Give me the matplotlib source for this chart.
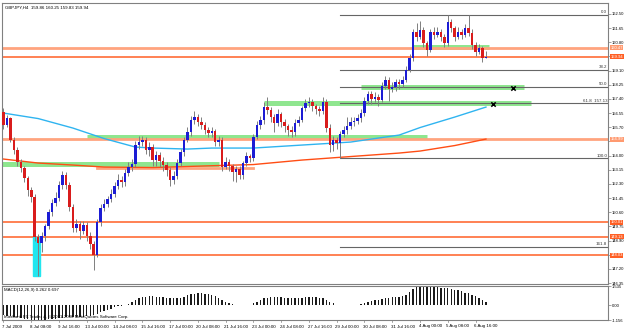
import matplotlib
matplotlib.use("Agg")
import matplotlib.pyplot as plt
import matplotlib.transforms as mtransforms
from matplotlib.patches import Rectangle

plt.rcParams['font.family'] = ['Liberation Sans', 'DejaVu Sans']

# GBPJPY H4, 7 Jul - 7 Aug 2009
first_open = 156.61
closes = [155.83, 156.25, 154.93, 154.33, 153.61, 153.25, 152.65, 151.93, 151.51, 149.11,
          148.75, 149.17, 149.77, 150.61, 151.15, 151.45, 152.23, 152.83, 152.23, 150.91,
          149.65, 149.89, 149.47, 149.83, 149.17, 148.69, 148.03, 150.01, 150.85, 151.09,
          151.39, 151.69, 152.17, 152.53, 152.41, 152.95, 153.31, 153.49, 154.63, 154.81,
          154.93, 154.33, 154.51, 153.73, 154.03, 153.67, 153.43, 153.13, 152.53, 152.77,
          153.55, 154.21, 154.93, 155.41, 156.13, 156.31, 156.01, 155.83, 155.53, 155.35,
          155.47, 154.81, 154.93, 153.31, 153.61, 153.37, 153.01, 153.19, 152.83, 153.55,
          153.97, 153.85, 155.11, 155.83, 156.13, 156.91, 156.73, 156.31, 155.95, 156.49,
          156.01, 155.77, 155.53, 155.41, 155.95, 156.13, 156.85, 157.15, 157.21, 156.97,
          156.79, 156.67, 157.21, 155.65, 154.63, 154.93, 154.75, 155.29, 155.53, 155.77,
          156.01, 156.07, 156.25, 156.55, 157.27, 157.69, 157.39, 157.51, 157.33, 158.17,
          158.53, 157.99, 158.11, 158.41, 158.29, 158.53, 159.13, 159.85, 161.42, 161.12,
          161.54, 160.76, 160.34, 161.42, 161.24, 161.42, 161.12, 160.76, 162.02, 161.66,
          161.12, 161.42, 161.24, 161.66, 161.36, 160.64, 160.22, 160.46, 159.86, 159.94]
highs = [156.85, 156.45, 156.30, 155.10, 154.50, 153.80, 153.40, 152.80, 152.10, 151.70,
         149.30, 149.40, 149.90, 150.80, 151.40, 151.80, 152.50, 153.10, 153.00, 152.40,
         151.10, 150.20, 150.10, 150.10, 150.00, 149.40, 148.90, 150.20, 151.10, 151.40,
         151.60, 152.00, 152.40, 152.90, 152.80, 153.20, 153.60, 153.80, 154.90, 155.20,
         155.20, 155.10, 154.80, 154.70, 154.30, 154.20, 153.90, 153.60, 153.30, 153.10,
         153.80, 154.40, 155.10, 155.70, 156.40, 156.70, 156.50, 156.30, 156.00, 155.70,
         155.70, 155.60, 155.20, 155.10, 153.90, 153.80, 153.50, 153.40, 153.40, 153.70,
         154.20, 154.10, 155.30, 156.10, 156.40, 157.20, 157.50, 156.90, 156.50, 156.80,
         156.60, 156.20, 155.90, 155.80, 156.20, 156.40, 157.00, 157.40, 157.50, 157.40,
         157.10, 157.00, 157.50, 157.40, 155.90, 155.20, 155.10, 155.50, 155.80, 156.30,
         156.30, 156.30, 156.50, 156.80, 157.50, 157.90, 157.90, 157.80, 157.70, 158.40,
         158.80, 158.70, 158.40, 158.60, 158.60, 158.80, 159.40, 160.10, 161.60, 161.95,
         162.10, 161.70, 160.90, 161.60, 161.70, 161.70, 161.60, 161.30, 162.44, 162.20,
         161.80, 161.70, 161.60, 161.90, 162.44, 161.60, 160.80, 160.70, 160.60, 160.25]
lows = [155.60, 155.70, 154.80, 154.10, 153.40, 153.00, 152.40, 151.60, 151.20, 148.90,
        146.75, 148.20, 148.90, 149.60, 150.40, 151.00, 151.30, 152.00, 152.00, 150.70,
        149.40, 149.40, 149.00, 149.30, 148.90, 148.40, 147.15, 147.90, 149.80, 150.70,
        150.90, 151.20, 151.50, 152.00, 152.10, 152.20, 152.80, 153.10, 153.30, 154.40,
        154.60, 154.10, 154.00, 153.40, 153.40, 153.30, 153.10, 152.80, 152.20, 152.30,
        152.60, 153.40, 154.00, 154.80, 155.20, 155.90, 155.80, 155.60, 155.30, 155.10,
        155.10, 154.60, 154.60, 153.10, 153.20, 153.10, 152.50, 152.40, 152.60, 152.60,
        153.40, 153.60, 153.70, 155.00, 155.60, 155.90, 156.50, 156.00, 155.40, 155.80,
        155.70, 155.40, 155.20, 155.10, 155.20, 155.80, 156.00, 156.70, 156.90, 156.70,
        156.50, 156.40, 156.50, 155.40, 154.20, 154.30, 154.40, 153.84, 155.10, 155.30,
        155.60, 155.80, 155.90, 156.00, 156.40, 157.10, 157.10, 157.20, 157.00, 157.20,
        158.00, 157.30, 157.80, 157.90, 158.00, 158.10, 158.40, 159.00, 159.70, 160.90,
        161.00, 160.50, 160.00, 160.20, 161.00, 161.10, 160.90, 160.50, 160.60, 161.40,
        160.90, 161.00, 161.00, 161.10, 161.20, 160.40, 160.00, 160.10, 159.60, 159.83]
opens = [first_open] + closes[:-1]

macd = [-0.75, -0.80, -0.85, -0.90, -0.95, -1.00, -1.05, -1.10, -1.12, -1.15,
        -1.15, -1.15, -1.13, -1.10, -1.08, -1.05, -1.00, -0.98, -0.95, -0.95,
        -0.95, -0.93, -0.90, -0.88, -0.85, -0.80, -0.75, -0.65, -0.55, -0.45,
        -0.35, -0.25, -0.15, -0.07, -0.02, 0.03, 0.12, 0.25, 0.40, 0.55,
        0.65, 0.70, 0.72, 0.72, 0.70, 0.68, 0.65, 0.60, 0.55, 0.55,
        0.58, 0.62, 0.70, 0.80, 0.88, 0.92, 0.95, 0.95, 0.92, 0.88,
        0.85, 0.75, 0.60, 0.45, 0.30, 0.18, 0.08, 0.03, 0.02, 0.02,
        0.03, 0.05, 0.15, 0.30, 0.45, 0.55, 0.62, 0.65, 0.65, 0.65,
        0.63, 0.60, 0.58, 0.57, 0.58, 0.60, 0.62, 0.65, 0.66, 0.66,
        0.65, 0.62, 0.60, 0.45, 0.30, 0.15, 0.06, 0.02, 0.02, 0.02,
        0.02, 0.03, 0.05, 0.10, 0.20, 0.30, 0.38, 0.42, 0.45, 0.50,
        0.55, 0.62, 0.65, 0.68, 0.70, 0.75, 0.85, 1.05, 1.30, 1.45,
        1.50, 1.52, 1.52, 1.50, 1.48, 1.45, 1.40, 1.38, 1.35, 1.30,
        1.25, 1.20, 1.12, 1.02, 0.95, 0.85, 0.72, 0.60, 0.45, 0.26]

# moving averages (bar index, price)
blue_ma_idx = [0, 10, 20, 29, 38, 43, 53, 60, 72, 86, 100, 114, 120, 130, 139]
blue_ma = [156.55, 156.22, 155.65, 155.02, 154.51, 154.45, 154.39, 154.45, 154.45,
           154.63, 154.81, 155.23, 155.68, 156.31, 156.91]
red_ma_idx = [0, 10, 20, 29, 43, 57, 72, 86, 100, 114, 120, 130, 139]
red_ma = [153.79, 153.55, 153.43, 153.31, 153.28, 153.37, 153.46, 153.73, 153.94,
          154.15, 154.27, 154.60, 154.99]

# drawn objects
orange_levels = [159.94, 150.01, 149.13, 148.03]
orange_labels = ['159.94', '150.01', '149.13', '148.03']
salmon_levels = [160.47, 154.99]
salmon_labels = ['160.47', '154.99']
salmon_seg = (153.25, 27, 72)
zone_prices = [153.49, 155.11, 157.15, 158.11, 160.52]
zone_start = [-1, 24, 75, 103, 118]
zone_end = [62, 122, 152, 150, 140]
fib_high, fib_low, fib_start = 162.44, 153.84, 97
fib_levels = [0.0, 38.2, 50.0, 61.8, 100.0, 161.8]
cross_idx = [146.8, 141.0]
cross_price = [158.05, 157.09]
cyan_box = (8.5, 10.5, 146.77, 149.11)

time_idx = list(range(0, 137, 8))
time_labels = ['7 Jul 2009', '8 Jul 08:00', '9 Jul 16:00', '13 Jul 00:00', '14 Jul 08:00',
               '15 Jul 16:00', '17 Jul 00:00', '20 Jul 08:00', '21 Jul 16:00', '23 Jul 00:00',
               '24 Jul 08:00', '27 Jul 16:00', '29 Jul 00:00', '30 Jul 08:00', '31 Jul 16:00',
               '4 Aug 00:00', '5 Aug 08:00', '6 Aug 16:00']

W, H = 625, 330
fig = plt.figure(figsize=(W / 100, H / 100), dpi=100)
fig.patch.set_facecolor('white')


def box(l, t, r, b):
    return [l / W, 1 - b / H, (r - l) / W, (b - t) / H]


ax = fig.add_axes(box(2, 3, 608, 284))
ax2 = fig.add_axes(box(2, 286, 608, 320), sharex=ax)
fs = 3.2
afs = 3.0
grey = '#808080'

# levels and objects behind the candles
for p, a, b in zip(zone_prices, zone_start, zone_end):
    ax.plot([a, b], [p, p], color='#8fe68f', lw=3.6, solid_capstyle='butt', zorder=1)
for p in salmon_levels:
    ax.axhline(p, color='#ffa47e', lw=2.0, zorder=1.5)
ax.plot([salmon_seg[1], salmon_seg[2]], [salmon_seg[0]] * 2, color='#ffa47e', lw=2.0, zorder=1.5)
for p in orange_levels:
    ax.axhline(p, color='#ff5f24', lw=1.1, zorder=1.6)

rng = fib_high - fib_low
for lv in fib_levels:
    p = fib_high - lv / 100 * rng
    ax.plot([fib_start, 175], [p, p], color='#666666', lw=0.8, zorder=1.7)
    txt = '%.1f' % lv
    if lv == 61.8:
        txt = '61.8  %.2f' % p
    ax.text(173.9, p + 0.04, txt, fontsize=fs, ha='right', va='bottom', color='#333333')

ax.add_patch(Rectangle((cyan_box[0], cyan_box[2]), cyan_box[1] - cyan_box[0],
                       cyan_box[3] - cyan_box[2], color='#22e6ef', zorder=1.8))

ax.plot(blue_ma_idx, blue_ma, color='#2fb4f0', lw=1.0, zorder=2)
ax.plot(red_ma_idx, red_ma, color='#ff4d14', lw=1.0, zorder=2)

# candles
idx = list(range(len(closes)))
ax.vlines(idx, lows, highs, color='#7f7f7f', lw=0.7, zorder=3)
for i in idx:
    o, c = opens[i], closes[i]
    col = '#1c1cd4' if c >= o else '#d91c1c'
    ax.bar(i, max(abs(c - o), 0.03), bottom=min(o, c), width=0.72, color=col,
           edgecolor='none', zorder=4)

ax.scatter(cross_idx, cross_price, marker='x', s=10, color='black', lw=1.1, zorder=5)

ax.set_xlim(-0.43, 174.16)
ax.set_ylim(146.29, 163.157)
ticks = [146.35 + 0.85 * k for k in range(20)]
hidden = ['159.95', '154.85', '148.05']
ax.set_yticks(ticks)
ax.set_yticklabels(['' if '%.2f' % t in hidden else '%.2f' % t for t in ticks])
ax.yaxis.tick_right()
ax.tick_params(axis='y', length=2, width=0.5, pad=1.0, labelsize=afs, color=grey)
ax.tick_params(axis='x', bottom=False, labelbottom=False)
for s in ax.spines.values():
    s.set_color(grey)
    s.set_linewidth(0.8)

ax.text(0.005, 0.992, 'GBPJPY,H4  159.86 160.25 159.83 159.94', transform=ax.transAxes,
        fontsize=fs, va='top', ha='left')

# MACD panel
ax2.bar(idx, macd, width=0.4, color='#1a1a1a', zorder=2)
ax2.set_ylim(-1.156, 1.535)
ax2.set_yticks([1.535, 0.0, -1.156])
ax2.set_yticklabels(['1.535', '0.00', '-1.156'])
ax2.yaxis.tick_right()
ax2.tick_params(axis='y', length=2, width=0.5, pad=1.0, labelsize=afs, color=grey)
ax2.tick_params(axis='x', bottom=False, labelbottom=False)
for s in ax2.spines.values():
    s.set_color(grey)
    s.set_linewidth(0.8)
ax2.text(0.004, 0.93, 'MACD(12,26,9) 0.262 0.697', transform=ax2.transAxes,
         fontsize=fs, va='top', ha='left')
ax2.text(0.004, 0.04, 'Interbank FX Trader 4, \u00a9 2001-2006 MetaQuotes Software Corp.',
         transform=ax2.transAxes, fontsize=fs, va='bottom', ha='left')

# time axis
tr = mtransforms.blended_transform_factory(ax2.transData, fig.transFigure)
for i, lab in zip(time_idx, time_labels):
    ax2.text(i - 0.4, 1 - 326.5 / H, lab, transform=tr, fontsize=fs, ha='left', va='center')
    ax2.plot([i, i], [1 - 320 / H, 1 - 322 / H], transform=tr, color=grey, lw=0.5,
             clip_on=False)

# price labels on the right axis
ptr = mtransforms.blended_transform_factory(fig.transFigure, ax.transData)
lab_x = 610.5 / W
for p, t in zip(orange_levels, orange_labels):
    fig.text(lab_x, p, t, transform=ptr, fontsize=afs, color='white', va='center', ha='left',
             bbox=dict(boxstyle='square,pad=0.12', fc='#ff5f24', ec='none'))
for p, t in zip(salmon_levels, salmon_labels):
    fig.text(lab_x, p, t, transform=ptr, fontsize=afs, color='white', va='center', ha='left',
             bbox=dict(boxstyle='square,pad=0.12', fc='#ff9a70', ec='none'))

fig.savefig('out.png', dpi=100, facecolor='white')
